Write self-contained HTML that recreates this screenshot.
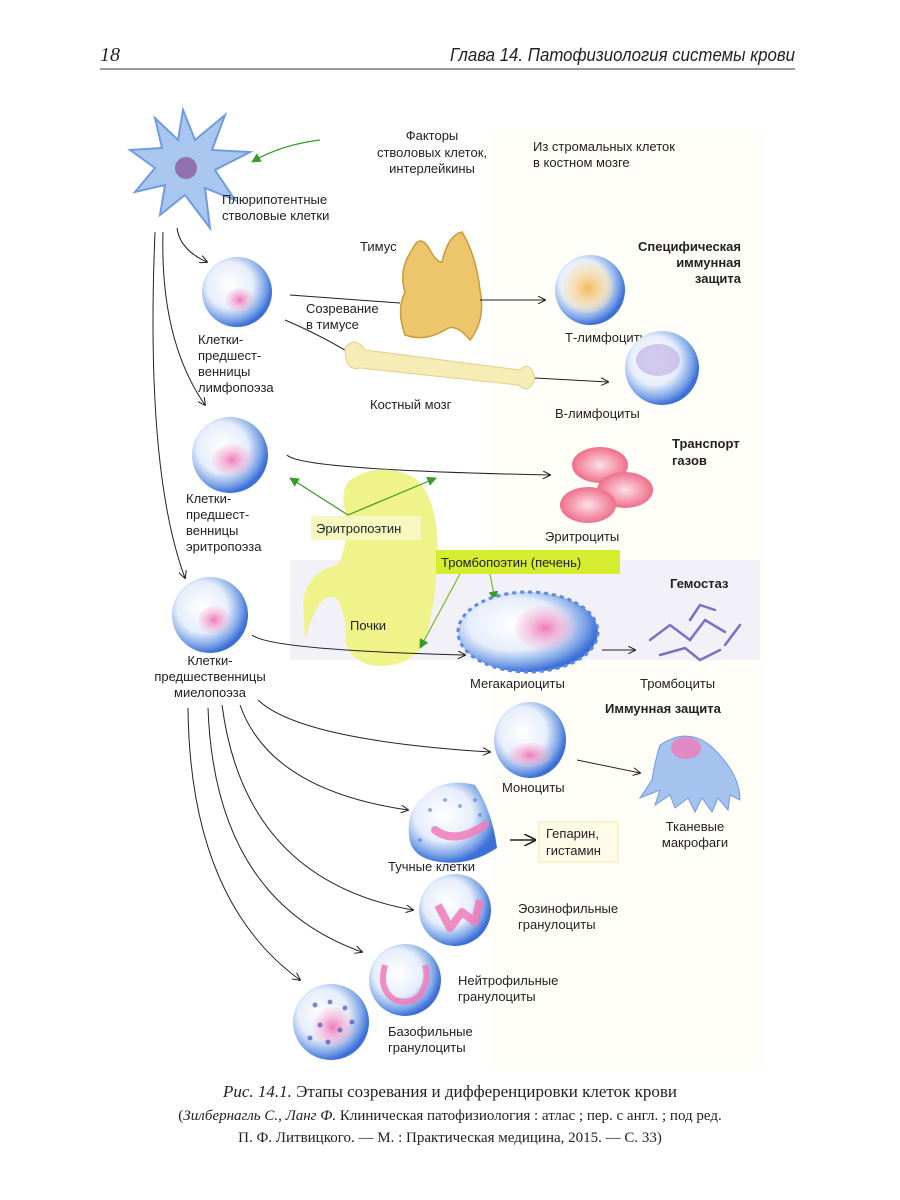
<!DOCTYPE html>
<html><head><meta charset="utf-8"><style>
html,body{margin:0;padding:0;background:#fff;}
svg{display:block;}
.t{font-family:"Liberation Sans","DejaVu Sans",sans-serif;font-size:13px;fill:#222;}
.b{font-weight:bold;}
.s{font-family:"Liberation Serif",serif;fill:#222;}
</style></head><body>
<svg width="900" height="1200" viewBox="0 0 900 1200" xmlns="http://www.w3.org/2000/svg">
<defs>
<radialGradient id="cell" cx="40%" cy="40%" r="60%"><stop offset="0" stop-color="#fff"/><stop offset="0.55" stop-color="#e6eefb"/><stop offset="0.85" stop-color="#7aa3e6"/><stop offset="1" stop-color="#3d6fd8"/></radialGradient>
<radialGradient id="pink" cx="50%" cy="50%" r="50%"><stop offset="0" stop-color="#f07ab8"/><stop offset="1" stop-color="#f7b8d8" stop-opacity="0.2"/></radialGradient>
<radialGradient id="org" cx="50%" cy="50%" r="50%"><stop offset="0" stop-color="#f3b85a"/><stop offset="1" stop-color="#f8dca8" stop-opacity="0.3"/></radialGradient>
<radialGradient id="rbc" cx="50%" cy="50%" r="50%"><stop offset="0" stop-color="#fbe1e6"/><stop offset="0.6" stop-color="#f59aae"/><stop offset="1" stop-color="#ee6f8d"/></radialGradient>
<marker id="a" viewBox="0 0 10 10" refX="9" refY="5" markerWidth="8" markerHeight="8" orient="auto"><path d="M0,0 L10,5 L0,10" fill="none" stroke="#222" stroke-width="1.3"/></marker>
<marker id="g" viewBox="0 0 10 10" refX="9" refY="5" markerWidth="8" markerHeight="8" orient="auto"><path d="M0,0 L10,5 L0,10 Z" fill="#3a9a2a"/></marker>
</defs>
<!-- header -->
<text x="100" y="61" class="s" style="font-size:20px;font-style:italic">18</text>
<text x="795" y="61" class="t" style="font-size:18px;font-style:italic" text-anchor="end" textLength="345" lengthAdjust="spacingAndGlyphs">Глава 14. Патофизиология системы крови</text>
<line x1="100" y1="69" x2="795" y2="69" stroke="#333" stroke-width="1"/>
<!-- backgrounds -->
<rect x="490" y="130" width="275" height="940" fill="#fffef9"/>
<rect x="290" y="560" width="470" height="100" fill="#f3f1f8"/>
<!-- stem cell -->
<path d="M183,110 L195,140 L225,115 L212,150 L250,152 L215,170 L235,200 L205,188 L210,228 L185,195 L160,215 L165,185 L135,192 L155,168 L130,150 L162,148 L155,118 L178,140 Z" fill="#a9c6ef" stroke="#6f9be0" stroke-width="2"/>
<circle cx="186" cy="168" r="11" fill="#8a5a9e" opacity="0.8"/>
<path d="M320,140 Q280,145 252,162" fill="none" stroke="#3a9a2a" stroke-width="1.2" marker-end="url(#g)"/>
<text class="t" text-anchor="middle" x="432" y="140">Факторы</text>
<text class="t" text-anchor="middle" x="432" y="157">стволовых клеток,</text>
<text class="t" text-anchor="middle" x="432" y="173">интерлейкины</text>
<text class="t" x="533" y="151">Из стромальных клеток</text>
<text class="t" x="533" y="167">в костном мозге</text>
<text class="t" x="222" y="204">Плюрипотентные</text>
<text class="t" x="222" y="220">стволовые клетки</text>
<!-- arrows from stem -->
<path d="M177,228 Q180,250 207,262" fill="none" stroke="#222" marker-end="url(#a)"/>
<path d="M163,232 Q160,340 205,405" fill="none" stroke="#222" marker-end="url(#a)"/>
<path d="M155,232 Q145,470 185,578" fill="none" stroke="#222" marker-end="url(#a)"/>
<!-- lymph precursor -->
<circle cx="237" cy="292" r="35" fill="url(#cell)"/>
<ellipse cx="240" cy="300" rx="14" ry="12" fill="url(#pink)"/>
<text class="t" x="198" y="344">Клетки-</text><text class="t" x="198" y="360">предшест-</text><text class="t" x="198" y="376">венницы</text><text class="t" x="198" y="392">лимфопоэза</text>
<!-- thymus -->
<path d="M412,250 Q420,232 430,250 Q436,262 442,262 Q448,235 462,232 Q476,255 480,290 Q486,320 470,340 Q455,322 445,330 Q425,342 405,335 Q396,310 405,292 Q398,270 412,250 Z" fill="#edc56a" stroke="#c99a3c" stroke-width="1.5"/>
<text class="t" x="360" y="251">Тимус</text>
<text class="t" x="306" y="313">Созревание</text><text class="t" x="306" y="329">в тимусе</text>
<line x1="290" y1="295" x2="400" y2="303" stroke="#222"/>
<path d="M480,300 L545,300" stroke="#222" fill="none" marker-end="url(#a)"/>
<path d="M285,320 Q320,335 348,352" stroke="#222" fill="none"/>
<!-- bone -->
<path d="M345,348 Q355,335 365,350 L520,370 Q530,360 535,378 Q530,395 518,385 L360,368 Q345,372 345,348 Z" fill="#f6ecb6" stroke="#e0d08a"/>
<path d="M535,378 L608,382" stroke="#222" fill="none" marker-end="url(#a)"/>
<text class="t" x="370" y="409">Костный мозг</text>
<!-- T cell -->
<circle cx="590" cy="290" r="35" fill="url(#cell)"/>
<circle cx="588" cy="288" r="25" fill="url(#org)"/>
<text class="t" x="565" y="342">Т-лимфоциты</text>
<text class="t b" x="741" y="251" text-anchor="end">Специфическая</text>
<text class="t b" x="741" y="267" text-anchor="end">иммунная</text>
<text class="t b" x="741" y="283" text-anchor="end">защита</text>
<!-- B cell -->
<circle cx="662" cy="368" r="37" fill="url(#cell)"/>
<ellipse cx="658" cy="360" rx="22" ry="16" fill="#b8a8e0" opacity="0.6"/>
<text class="t" x="555" y="418">В-лимфоциты</text>
<!-- erythro precursor -->
<circle cx="230" cy="455" r="38" fill="url(#cell)"/>
<ellipse cx="232" cy="460" rx="20" ry="16" fill="url(#pink)"/>
<text class="t" x="186" y="503">Клетки-</text><text class="t" x="186" y="519">предшест-</text><text class="t" x="186" y="535">венницы</text><text class="t" x="186" y="551">эритропоэза</text>
<path d="M287,455 Q300,470 550,475" fill="none" stroke="#222" marker-end="url(#a)"/>
<text class="t b" x="672" y="448">Транспорт</text><text class="t b" x="672" y="465">газов</text>
<!-- RBC -->
<ellipse cx="600" cy="465" rx="28" ry="18" fill="url(#rbc)"/>
<ellipse cx="625" cy="490" rx="28" ry="18" fill="url(#rbc)"/>
<ellipse cx="588" cy="505" rx="28" ry="18" fill="url(#rbc)"/>
<text class="t" x="545" y="541">Эритроциты</text>
<!-- kidney -->
<path d="M350,480 Q380,460 415,478 Q440,500 437,560 Q435,620 420,650 Q400,670 370,665 Q350,660 345,640 Q348,620 338,600 Q320,585 305,640 L303,600 Q310,570 338,565 Q350,540 345,510 Q340,490 350,480 Z" fill="#f0f28a"/>
<path d="M348,515 L436,478" fill="none" stroke="#3a9a2a" stroke-width="1.2" marker-end="url(#g)"/>
<path d="M348,515 L290,478" fill="none" stroke="#3a9a2a" stroke-width="1.2" marker-end="url(#g)"/>
<rect x="311" y="516" width="110" height="24" fill="#f6f8c0"/>
<text class="t" x="316" y="533">Эритропоэтин</text>
<text class="t" x="350" y="630">Почки</text>
<rect x="436" y="550" width="184" height="24" fill="#d6ec2e"/>
<text class="t" x="441" y="567">Тромбопоэтин (печень)</text>
<path d="M490,574 L495,600" stroke="#6fbf2a" fill="none" stroke-width="1.2" marker-end="url(#g)"/>
<path d="M460,574 L420,648" stroke="#6fbf2a" fill="none" stroke-width="1.2" marker-end="url(#g)"/>
<!-- myelo precursor -->
<circle cx="210" cy="615" r="38" fill="url(#cell)"/>
<ellipse cx="214" cy="620" rx="16" ry="14" fill="url(#pink)"/>
<text class="t" x="210" y="665" text-anchor="middle">Клетки-</text>
<text class="t" x="210" y="681" text-anchor="middle">предшественницы</text>
<text class="t" x="210" y="697" text-anchor="middle">миелопоэза</text>
<path d="M252,635 Q270,650 465,655" fill="none" stroke="#222" marker-end="url(#a)"/>
<!-- megakaryocyte -->
<ellipse cx="528" cy="632" rx="70" ry="40" fill="url(#cell)" stroke="#5b8ae0" stroke-width="3" stroke-dasharray="4 4"/>
<ellipse cx="545" cy="628" rx="30" ry="22" fill="url(#pink)"/>
<text class="t" x="470" y="688">Мегакариоциты</text>
<path d="M602,650 L635,650" stroke="#222" fill="none" marker-end="url(#a)"/>
<text class="t b" x="670" y="588">Гемостаз</text>
<g stroke="#7a70c8" stroke-width="2.5" fill="none" stroke-linecap="round">
<path d="M650,640 L670,625 L690,640 L705,620 L725,632"/><path d="M660,655 L685,648 L700,660 L720,650"/><path d="M690,620 L700,605 L715,610"/><path d="M740,625 L725,645"/></g>
<text class="t" x="640" y="688">Тромбоциты</text>
<!-- myeloid fan -->
<g fill="none" stroke="#222">
<path d="M258,700 Q300,740 490,752" marker-end="url(#a)"/>
<path d="M240,705 Q270,790 408,810" marker-end="url(#a)"/>
<path d="M222,705 Q245,880 413,910" marker-end="url(#a)"/>
<path d="M208,708 Q215,900 362,952" marker-end="url(#a)"/>
<path d="M188,708 Q190,900 300,980" marker-end="url(#a)"/>
</g>
<text class="t b" x="605" y="713">Иммунная защита</text>
<!-- monocyte -->
<ellipse cx="530" cy="740" rx="36" ry="38" fill="url(#cell)"/>
<ellipse cx="530" cy="755" rx="22" ry="12" fill="url(#pink)"/>
<text class="t" x="502" y="792">Моноциты</text>
<path d="M577,760 L640,773" stroke="#222" fill="none" marker-end="url(#a)"/>
<!-- macrophage -->
<path d="M660,745 Q690,725 715,750 Q740,775 740,800 L730,795 L728,810 L718,798 L712,812 L702,798 L695,812 L688,798 L675,808 L670,795 L655,805 L660,790 L640,798 L652,780 Q655,760 660,745 Z" fill="#a6c2ef" stroke="#6f9be0"/>
<ellipse cx="686" cy="748" rx="15" ry="11" fill="#f07ab8" opacity="0.8"/>
<text class="t" x="695" y="831" text-anchor="middle">Тканевые</text><text class="t" x="695" y="847" text-anchor="middle">макрофаги</text>
<!-- mast cell -->
<path d="M418,802 Q440,776 475,785 Q492,810 497,848 Q470,866 440,862 Q410,858 409,835 Q407,815 418,802 Z" fill="url(#cell)"/>
<g fill="#5a7ad8" opacity="0.6"><circle cx="430" cy="810" r="2"/><circle cx="445" cy="800" r="2"/><circle cx="460" cy="806" r="2"/><circle cx="475" cy="800" r="2"/><circle cx="480" cy="815" r="2"/><circle cx="420" cy="840" r="2"/><circle cx="488" cy="840" r="2"/></g>
<path d="M435,830 Q455,845 485,825" stroke="#f07ab8" stroke-width="8" fill="none" stroke-linecap="round" opacity="0.85"/>
<text class="t" x="388" y="871">Тучные клетки</text>
<path d="M510,840 L535,840" stroke="#222" stroke-width="1.5" marker-end="url(#a)"/>
<rect x="539" y="822" width="79" height="40" fill="#fffbe8" stroke="#f4e8a0"/>
<text class="t" x="546" y="838">Гепарин,</text><text class="t" x="546" y="855">гистамин</text>
<!-- eosinophil -->
<circle cx="455" cy="910" r="36" fill="url(#cell)"/>
<path d="M438,905 L450,928 L462,912 L475,922 L480,900" stroke="#f07ab8" stroke-width="8" fill="none" stroke-linejoin="round" opacity="0.85"/>
<text class="t" x="518" y="913">Эозинофильные</text><text class="t" x="518" y="929">гранулоциты</text>
<!-- neutrophil -->
<circle cx="405" cy="980" r="36" fill="url(#cell)"/>
<path d="M385,965 Q378,990 395,1000 Q410,1005 420,995 Q430,980 425,965" stroke="#f07ab8" stroke-width="6" fill="none" opacity="0.85"/>
<text class="t" x="458" y="985">Нейтрофильные</text><text class="t" x="458" y="1001">гранулоциты</text>
<!-- basophil -->
<circle cx="331" cy="1022" r="38" fill="url(#cell)"/>
<circle cx="333" cy="1027" r="20" fill="url(#pink)"/>
<g fill="#4a56b8" opacity="0.7"><circle cx="315" cy="1005" r="2.5"/><circle cx="330" cy="1002" r="2.5"/><circle cx="345" cy="1008" r="2.5"/><circle cx="320" cy="1025" r="2.5"/><circle cx="340" cy="1030" r="2.5"/><circle cx="328" cy="1042" r="2.5"/><circle cx="352" cy="1022" r="2.5"/><circle cx="310" cy="1038" r="2.5"/></g>
<text class="t" x="388" y="1036">Базофильные</text><text class="t" x="388" y="1052">гранулоциты</text>
<!-- caption -->
<text class="s" x="450" y="1097" font-size="17" text-anchor="middle"><tspan font-style="italic">Рис. 14.1.</tspan> Этапы созревания и дифференцировки клеток крови</text>
<text class="s" x="450" y="1120" font-size="15" text-anchor="middle">(<tspan font-style="italic">Зилбернагль С., Ланг Ф.</tspan> Клиническая патофизиология : атлас ; пер. с англ. ; под ред.</text>
<text class="s" x="450" y="1142" font-size="15" text-anchor="middle">П. Ф. Литвицкого. — М. : Практическая медицина, 2015. — С. 33)</text>
</svg>
</body></html>
